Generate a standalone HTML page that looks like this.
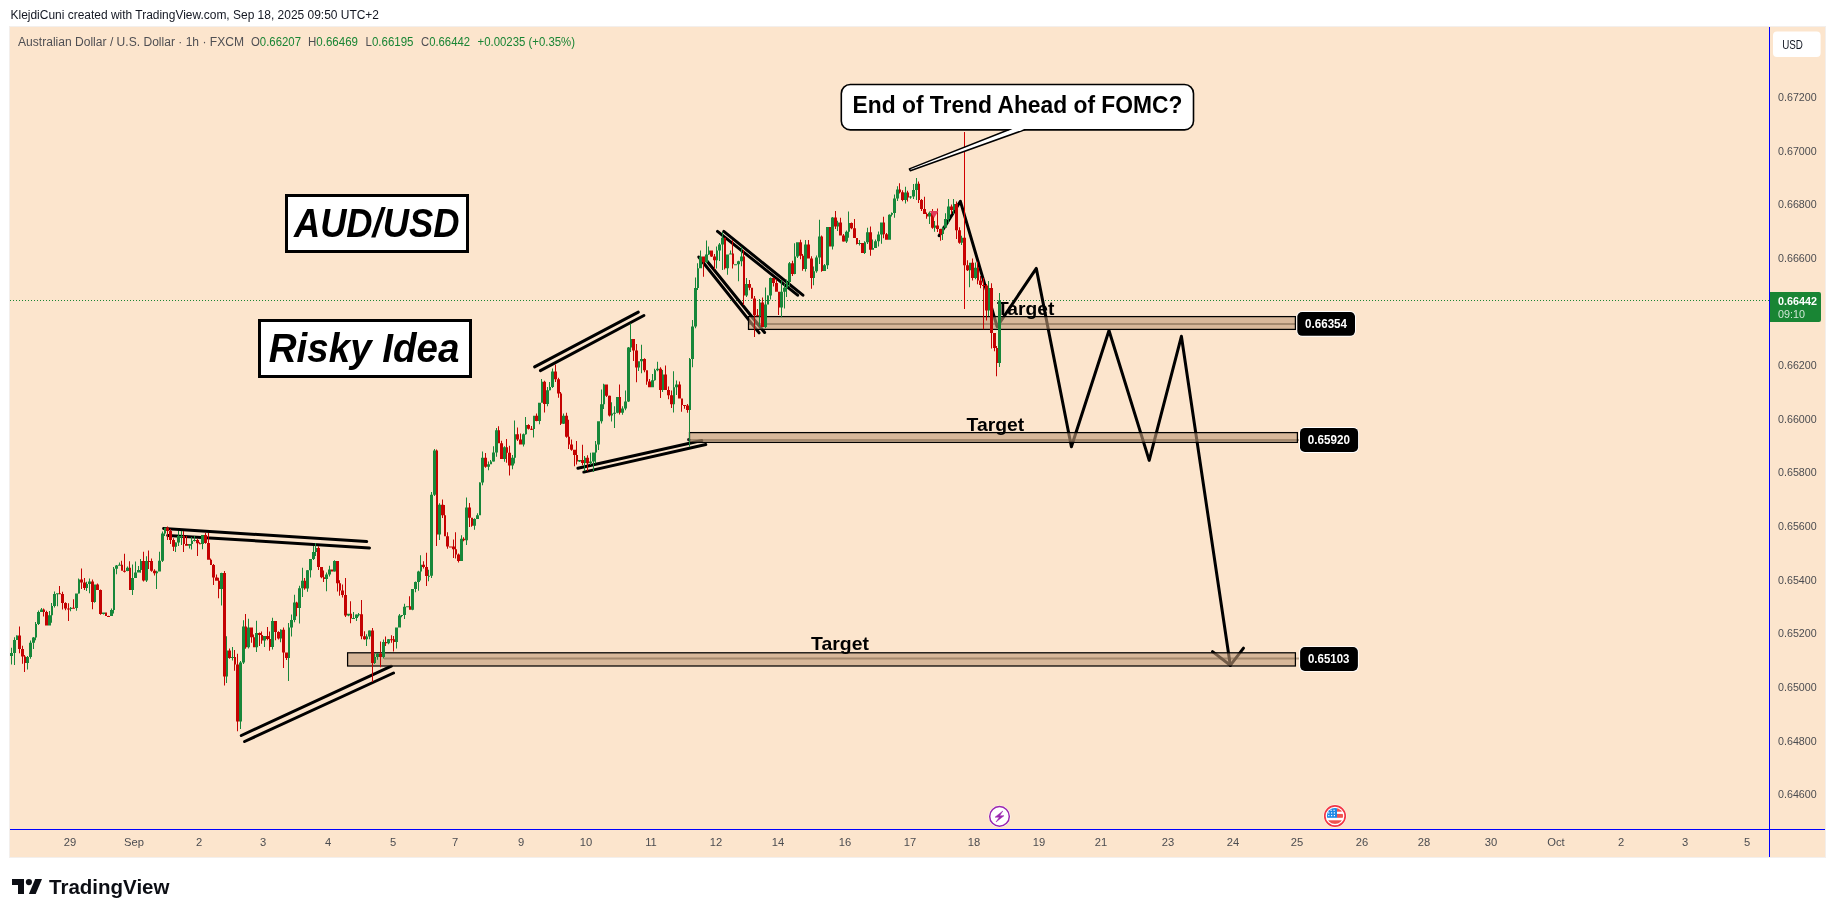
<!DOCTYPE html>
<html><head><meta charset="utf-8"><title>AUDUSD chart</title>
<style>html,body{margin:0;padding:0;background:#fff}body{width:1835px;height:917px}svg{display:block;will-change:transform}text{font-family:"Liberation Sans", sans-serif;white-space:pre}</style>
</head><body>
<svg width="1835" height="917" viewBox="0 0 1835 917">
<rect width="1835" height="917" fill="#fff"/>
<rect x="9.5" y="26.5" width="1816" height="831" fill="#fce5cd" stroke="#f3efec" stroke-width="1"/>
<rect x="10" y="27" width="1815" height="830" fill="#fce5cd"/>
<line x1="10" y1="300.5" x2="1769" y2="300.5" stroke="#198534" stroke-width="1" stroke-dasharray="1 2"/>
<line x1="163.6" y1="528.5" x2="366.7" y2="541.6" stroke="#000" stroke-width="3" stroke-linecap="round"/>
<line x1="167.7" y1="535.4" x2="369.5" y2="547.9" stroke="#000" stroke-width="3" stroke-linecap="round"/>
<line x1="241.3" y1="735.5" x2="391.3" y2="666.2" stroke="#000" stroke-width="3" stroke-linecap="round"/>
<line x1="244.6" y1="741.5" x2="393.5" y2="673" stroke="#000" stroke-width="3" stroke-linecap="round"/>
<line x1="534.6" y1="366.9" x2="638.3" y2="312.1" stroke="#000" stroke-width="3" stroke-linecap="round"/>
<line x1="540.4" y1="370.6" x2="643.9" y2="315.5" stroke="#000" stroke-width="3" stroke-linecap="round"/>
<line x1="577.9" y1="468.2" x2="701.8" y2="440.5" stroke="#000" stroke-width="3" stroke-linecap="round"/>
<line x1="583.8" y1="472.1" x2="705.8" y2="444.5" stroke="#000" stroke-width="3" stroke-linecap="round"/>
<line x1="717.5" y1="231.4" x2="797.6" y2="295.2" stroke="#000" stroke-width="3" stroke-linecap="round"/>
<line x1="723.8" y1="231.4" x2="802.9" y2="295.2" stroke="#000" stroke-width="3" stroke-linecap="round"/>
<line x1="698.8" y1="257" x2="759.1" y2="332.9" stroke="#000" stroke-width="3" stroke-linecap="round"/>
<line x1="704.7" y1="258.3" x2="764.6" y2="332.5" stroke="#000" stroke-width="3" stroke-linecap="round"/>
<polyline points="939.2,235.6 960.4,201.3 997.1,326.6 1036.3,268.4 1071.4,446.7 1109,330.5 1149.2,460.4 1181.4,336.3 1230.3,665.3" fill="none" stroke="#000" stroke-width="3" stroke-linejoin="round" stroke-linecap="round"/>
<polyline points="1212.5,651.6 1230.3,665.3 1243.5,648.2" fill="none" stroke="#000" stroke-width="3" stroke-linejoin="round" stroke-linecap="round"/>
<rect x="748.5" y="316.6" width="546.9" height="12.8" fill="rgba(192,153,120,0.6)"/>
<line x1="748.5" y1="324.0" x2="1296" y2="324.0" stroke="rgba(112,90,65,0.5)" stroke-width="2"/>
<rect x="748.5" y="316.6" width="546.9" height="12.8" fill="none" stroke="#000" stroke-width="1.25"/>
<rect x="689.5" y="432.6" width="607.9" height="9.8" fill="rgba(192,153,120,0.6)"/>
<line x1="689.5" y1="439.9" x2="1299" y2="439.9" stroke="rgba(112,90,65,0.5)" stroke-width="2"/>
<rect x="689.5" y="432.6" width="607.9" height="9.8" fill="none" stroke="#000" stroke-width="1.25"/>
<rect x="347.6" y="652.8" width="947.8" height="13.2" fill="rgba(192,153,120,0.6)"/>
<line x1="384" y1="658.6" x2="1299" y2="658.6" stroke="rgba(112,90,65,0.5)" stroke-width="2"/>
<rect x="347.6" y="652.8" width="947.8" height="13.2" fill="none" stroke="#000" stroke-width="1.25"/>
<circle cx="688.6" cy="439.6" r="1.6" fill="#222"/>
<text x="997.0" y="314.8" font-size="19" fill="#000" font-weight="bold" font-style="normal" text-anchor="start" textLength="57.3" lengthAdjust="spacingAndGlyphs">Target</text>
<text x="966.6" y="431.0" font-size="19" fill="#000" font-weight="bold" font-style="normal" text-anchor="start" textLength="57.6" lengthAdjust="spacingAndGlyphs">Target</text>
<text x="811.1" y="649.8" font-size="19" fill="#000" font-weight="bold" font-style="normal" text-anchor="start" textLength="57.9" lengthAdjust="spacingAndGlyphs">Target</text>
<path d="M11 647.8h1V664.5h-1ZM10 653.0h3V656.0h-3ZM14 637.3h1V664.9h-1ZM13 640.1h3V653.0h-3ZM16 635.2h1V640.1h-1ZM16 635.5h2V640.1h-2ZM27 655.9h1V669.4h-1ZM26 657.0h3V663.0h-3ZM30 640.4h1V658.8h-1ZM29 642.8h3V657.0h-3ZM33 637.0h1V649.0h-1ZM32 637.4h3V642.8h-3ZM35 622.0h1V640.3h-1ZM35 624.1h2V637.4h-2ZM38 610.5h1V625.1h-1ZM37 612.0h3V624.1h-3ZM41 608.1h1V612.0h-1ZM40 609.4h3V612.0h-3ZM49 611.0h1V625.6h-1ZM48 615.2h3V625.6h-3ZM51 603.1h1V622.7h-1ZM51 606.0h2V615.2h-2ZM54 591.5h1V607.5h-1ZM53 594.0h3V606.0h-3ZM57 593.3h1V606.2h-1ZM56 593.3h3V594.3h-3ZM70 607.1h1V611.2h-1ZM70 607.7h2V609.0h-2ZM76 593.6h1V610.7h-1ZM75 593.6h3V608.0h-3ZM78 578.4h1V593.8h-1ZM78 579.5h2V593.6h-2ZM86 581.7h1V591.0h-1ZM86 584.0h2V588.0h-2ZM89 578.5h1V593.3h-1ZM88 581.5h3V584.0h-3ZM94 584.4h1V602.8h-1ZM94 584.4h2V602.0h-2ZM103 612.6h1V614.6h-1ZM102 612.6h3V614.0h-3ZM111 608.5h1V616.1h-1ZM110 610.0h3V616.1h-3ZM113 567.0h1V613.5h-1ZM113 568.7h2V610.0h-2ZM116 565.1h1V574.3h-1ZM115 565.5h3V568.7h-3ZM119 562.4h1V565.5h-1ZM118 564.8h3V565.8h-3ZM127 566.4h1V571.3h-1ZM126 567.7h3V571.0h-3ZM132 564.5h1V595.0h-1ZM131 578.0h3V590.0h-3ZM135 561.4h1V578.0h-1ZM134 572.6h3V578.0h-3ZM138 566.1h1V572.6h-1ZM137 570.0h3V572.6h-3ZM140 559.0h1V572.7h-1ZM140 560.9h2V570.0h-2ZM146 556.3h1V582.1h-1ZM145 560.9h3V580.5h-3ZM156 570.8h1V588.9h-1ZM156 571.6h2V573.2h-2ZM159 551.8h1V571.6h-1ZM158 560.8h3V571.6h-3ZM162 531.5h1V562.0h-1ZM161 533.4h3V560.8h-3ZM164 527.7h1V536.1h-1ZM164 527.7h2V533.4h-2ZM175 542.2h1V551.9h-1ZM175 542.4h2V546.7h-2ZM178 531.0h1V546.0h-1ZM177 536.0h3V542.4h-3ZM181 531.1h1V545.1h-1ZM180 536.0h3V537.0h-3ZM189 544.0h1V548.6h-1ZM188 544.0h3V545.7h-3ZM191 537.1h1V549.6h-1ZM191 540.7h2V544.0h-2ZM194 536.0h1V541.4h-1ZM193 540.0h3V541.0h-3ZM202 534.9h1V549.3h-1ZM201 535.0h3V544.0h-3ZM221 572.7h1V605.4h-1ZM220 573.0h3V589.0h-3ZM226 636.2h1V683.0h-1ZM226 650.4h2V676.6h-2ZM232 646.9h1V660.6h-1ZM231 657.0h3V658.0h-3ZM240 661.0h1V729.0h-1ZM239 662.4h3V721.4h-3ZM243 620.3h1V664.0h-1ZM242 626.4h3V662.4h-3ZM248 618.8h1V648.6h-1ZM247 627.5h3V647.2h-3ZM256 620.8h1V651.9h-1ZM255 633.0h3V647.2h-3ZM264 636.0h1V646.9h-1ZM263 636.0h3V640.6h-3ZM272 617.8h1V649.6h-1ZM271 621.0h3V647.0h-3ZM280 629.2h1V642.2h-1ZM280 629.7h2V638.4h-2ZM288 623.0h1V681.0h-1ZM288 627.5h2V658.0h-2ZM291 614.4h1V636.6h-1ZM290 620.0h3V627.5h-3ZM294 594.8h1V622.3h-1ZM293 602.4h3V620.0h-3ZM299 585.8h1V623.5h-1ZM298 588.2h3V607.9h-3ZM302 567.7h1V597.1h-1ZM301 580.7h3V588.2h-3ZM307 569.9h1V591.7h-1ZM306 570.2h3V588.6h-3ZM310 558.9h1V577.6h-1ZM309 558.9h3V570.2h-3ZM313 546.0h1V560.0h-1ZM312 551.9h3V558.9h-3ZM315 543.0h1V556.0h-1ZM315 547.9h2V551.9h-2ZM326 572.5h1V591.3h-1ZM325 574.4h3V579.0h-3ZM329 565.7h1V576.4h-1ZM328 569.5h3V574.4h-3ZM334 560.2h1V571.7h-1ZM333 561.1h3V571.4h-3ZM348 613.8h1V616.3h-1ZM347 613.8h3V615.6h-3ZM353 612.0h1V618.6h-1ZM352 618.0h3V619.0h-3ZM356 614.2h1V621.1h-1ZM355 614.5h3V618.0h-3ZM358 612.9h1V616.4h-1ZM358 614.2h2V615.2h-2ZM366 634.2h1V646.0h-1ZM366 636.4h2V639.2h-2ZM369 630.2h1V639.2h-1ZM368 630.4h3V636.4h-3ZM374 653.6h1V663.9h-1ZM374 656.9h2V663.0h-2ZM377 652.9h1V659.7h-1ZM376 653.7h3V656.9h-3ZM383 639.6h1V658.5h-1ZM382 642.1h3V656.9h-3ZM388 639.0h1V644.2h-1ZM387 639.2h3V643.2h-3ZM396 627.4h1V648.4h-1ZM395 627.4h3V642.1h-3ZM399 613.9h1V627.4h-1ZM398 615.6h3V627.4h-3ZM401 615.1h1V617.2h-1ZM401 615.1h2V616.1h-2ZM404 603.8h1V618.9h-1ZM403 606.8h3V615.1h-3ZM407 606.2h1V606.8h-1ZM406 606.2h3V607.2h-3ZM412 589.1h1V610.3h-1ZM411 589.1h3V609.7h-3ZM415 581.6h1V592.2h-1ZM414 582.0h3V589.1h-3ZM418 570.7h1V590.8h-1ZM417 571.4h3V582.0h-3ZM420 555.3h1V580.6h-1ZM420 564.7h2V571.4h-2ZM428 569.8h1V581.3h-1ZM428 575.8h2V576.8h-2ZM431 492.0h1V578.0h-1ZM430 494.8h3V575.8h-3ZM434 449.0h1V496.0h-1ZM433 450.6h3V494.8h-3ZM439 503.2h1V540.0h-1ZM438 504.8h3V534.6h-3ZM461 535.3h1V561.0h-1ZM460 538.8h3V561.0h-3ZM466 497.4h1V545.1h-1ZM465 507.4h3V540.2h-3ZM474 518.2h1V529.7h-1ZM473 518.9h3V525.7h-3ZM477 513.2h1V518.9h-1ZM476 515.2h3V518.9h-3ZM479 482.2h1V515.2h-1ZM479 482.5h2V515.2h-2ZM482 451.6h1V485.2h-1ZM481 457.7h3V482.5h-3ZM488 461.4h1V470.3h-1ZM487 464.2h3V466.8h-3ZM490 459.9h1V464.2h-1ZM490 461.6h2V464.2h-2ZM493 446.3h1V461.7h-1ZM492 452.5h3V461.6h-3ZM496 427.9h1V456.7h-1ZM495 430.2h3V452.5h-3ZM504 446.2h1V461.8h-1ZM503 447.2h3V459.0h-3ZM512 455.1h1V469.3h-1ZM511 457.7h3V465.5h-3ZM514 420.4h1V463.5h-1ZM514 434.2h2V457.7h-2ZM523 433.6h1V446.5h-1ZM522 434.2h3V444.6h-3ZM525 416.9h1V434.7h-1ZM525 425.0h2V434.2h-2ZM533 415.8h1V437.6h-1ZM533 415.8h2V428.9h-2ZM539 402.8h1V424.2h-1ZM538 402.8h3V421.1h-3ZM541 379.0h1V402.8h-1ZM541 381.8h2V402.8h-2ZM547 387.0h1V406.2h-1ZM546 390.3h3V404.1h-3ZM549 381.9h1V390.4h-1ZM549 387.1h2V390.3h-2ZM552 368.5h1V388.0h-1ZM551 371.4h3V387.1h-3ZM563 413.4h1V424.0h-1ZM562 415.8h3V423.7h-3ZM579 460.0h1V462.0h-1ZM578 460.0h3V461.6h-3ZM584 456.1h1V471.0h-1ZM584 457.7h2V462.9h-2ZM590 452.7h1V464.9h-1ZM589 461.6h3V463.3h-3ZM593 452.5h1V472.0h-1ZM592 452.5h3V461.6h-3ZM595 441.1h1V463.6h-1ZM595 444.6h2V452.5h-2ZM598 421.2h1V450.1h-1ZM597 421.2h3V444.6h-3ZM601 389.5h1V423.6h-1ZM600 404.2h3V421.2h-3ZM603 383.8h1V408.9h-1ZM603 384.4h2V404.2h-2ZM611 402.2h1V421.5h-1ZM611 413.5h2V415.5h-2ZM614 406.3h1V427.9h-1ZM613 412.7h3V413.7h-3ZM617 397.1h1V413.3h-1ZM616 397.1h3V412.7h-3ZM622 406.2h1V414.7h-1ZM621 408.4h3V412.7h-3ZM625 390.6h1V410.2h-1ZM624 401.4h3V408.4h-3ZM628 347.1h1V401.9h-1ZM627 347.5h3V401.4h-3ZM630 323.4h1V352.0h-1ZM630 339.0h2V347.5h-2ZM638 361.3h1V370.9h-1ZM638 361.3h2V367.4h-2ZM641 344.7h1V373.3h-1ZM640 358.9h3V361.3h-3ZM652 374.0h1V387.3h-1ZM651 380.2h3V387.2h-3ZM654 368.8h1V380.7h-1ZM654 370.2h2V380.2h-2ZM657 361.8h1V371.3h-1ZM656 368.8h3V370.2h-3ZM662 370.1h1V392.0h-1ZM662 374.4h2V390.0h-2ZM673 371.3h1V412.4h-1ZM673 387.2h2V404.2h-2ZM676 380.4h1V395.1h-1ZM675 384.4h3V387.2h-3ZM689 358.0h1V446.7h-1ZM689 358.9h2V409.9h-2ZM692 320.1h1V367.3h-1ZM691 326.5h3V358.9h-3ZM695 277.5h1V328.2h-1ZM694 288.0h3V326.5h-3ZM697 263.2h1V289.9h-1ZM697 268.2h2V288.0h-2ZM700 250.5h1V268.2h-1ZM699 256.4h3V268.2h-3ZM706 240.6h1V262.9h-1ZM705 254.4h3V262.3h-3ZM708 246.5h1V255.1h-1ZM708 250.5h2V254.4h-2ZM716 246.6h1V268.5h-1ZM716 250.5h2V260.3h-2ZM719 243.1h1V261.0h-1ZM718 244.6h3V250.5h-3ZM722 232.0h1V270.0h-1ZM721 237.7h3V244.6h-3ZM727 254.4h1V274.8h-1ZM726 254.4h3V268.2h-3ZM730 250.5h1V254.4h-1ZM729 253.4h3V254.4h-3ZM735 264.2h1V264.2h-1ZM734 264.2h3V265.2h-3ZM738 260.7h1V281.2h-1ZM737 261.3h3V264.2h-3ZM741 246.7h1V266.2h-1ZM740 256.4h3V261.3h-3ZM746 278.1h1V297.1h-1ZM745 283.9h3V295.6h-3ZM759 299.1h1V326.1h-1ZM759 302.5h2V316.3h-2ZM765 287.5h1V328.2h-1ZM764 304.5h3V327.0h-3ZM767 295.2h1V304.5h-1ZM767 295.6h2V304.5h-2ZM770 277.4h1V299.4h-1ZM769 278.0h3V295.6h-3ZM781 279.9h1V317.2h-1ZM780 291.7h3V307.4h-3ZM784 283.6h1V308.6h-1ZM783 287.8h3V291.7h-3ZM786 279.4h1V297.1h-1ZM786 281.9h2V287.8h-2ZM789 261.9h1V286.9h-1ZM788 263.2h3V281.9h-3ZM794 243.3h1V274.2h-1ZM794 256.4h2V274.0h-2ZM797 242.2h1V257.9h-1ZM796 242.3h3V256.4h-3ZM805 240.0h1V271.6h-1ZM804 244.6h3V269.0h-3ZM813 266.5h1V285.2h-1ZM813 271.3h2V277.9h-2ZM816 255.6h1V272.8h-1ZM815 257.4h3V271.3h-3ZM819 219.8h1V263.9h-1ZM818 236.4h3V257.4h-3ZM824 263.9h1V270.9h-1ZM823 265.2h3V270.9h-3ZM827 227.0h1V269.1h-1ZM826 227.0h3V265.2h-3ZM832 217.1h1V249.5h-1ZM831 217.5h3V246.4h-3ZM837 220.8h1V231.0h-1ZM837 222.6h2V226.5h-2ZM846 230.4h1V242.9h-1ZM845 231.8h3V241.6h-3ZM848 211.6h1V237.7h-1ZM848 222.9h2V231.8h-2ZM859 240.0h1V245.6h-1ZM858 242.9h3V244.1h-3ZM864 241.2h1V254.1h-1ZM864 242.3h2V253.0h-2ZM867 227.8h1V243.9h-1ZM866 232.3h3V242.3h-3ZM872 239.5h1V249.7h-1ZM872 248.1h2V249.7h-2ZM875 239.4h1V248.1h-1ZM874 241.2h3V248.1h-3ZM878 231.6h1V246.6h-1ZM877 234.4h3V241.2h-3ZM881 222.4h1V243.8h-1ZM880 222.6h3V234.4h-3ZM889 214.2h1V239.7h-1ZM888 214.8h3V239.7h-3ZM891 212.6h1V216.6h-1ZM891 213.0h2V214.8h-2ZM894 194.5h1V217.8h-1ZM893 198.6h3V213.0h-3ZM897 186.2h1V200.9h-1ZM896 189.6h3V198.6h-3ZM905 186.8h1V203.4h-1ZM904 192.6h3V200.1h-3ZM910 196.1h1V198.7h-1ZM909 196.5h3V197.6h-3ZM913 184.0h1V199.0h-1ZM912 190.1h3V196.5h-3ZM916 178.0h1V200.0h-1ZM915 183.8h3V190.1h-3ZM929 211.6h1V223.9h-1ZM928 212.7h3V216.4h-3ZM934 220.9h1V231.7h-1ZM934 225.5h2V227.7h-2ZM942 226.7h1V239.9h-1ZM942 227.7h2V234.0h-2ZM945 213.2h1V227.7h-1ZM944 218.9h3V227.7h-3ZM948 199.0h1V223.2h-1ZM947 206.4h3V218.9h-3ZM953 198.9h1V213.9h-1ZM953 203.9h2V210.1h-2ZM961 235.8h1V245.1h-1ZM961 237.7h2V242.7h-2ZM969 262.7h1V287.3h-1ZM969 262.8h2V270.3h-2ZM975 262.4h1V279.3h-1ZM974 267.8h3V277.9h-3ZM988 281.0h1V316.3h-1ZM988 287.9h2V310.5h-2ZM999 292.9h1V367.0h-1ZM998 300.4h3V363.1h-3Z" fill="#17873a"/>
<path d="M19 626.6h1V653.3h-1ZM18 635.5h3V649.0h-3ZM22 645.8h1V663.8h-1ZM21 649.0h3V656.5h-3ZM24 655.0h1V672.0h-1ZM24 656.5h2V663.0h-2ZM43 608.4h1V616.6h-1ZM43 609.4h2V612.0h-2ZM46 610.8h1V625.6h-1ZM45 612.0h3V625.6h-3ZM59 585.9h1V594.0h-1ZM59 593.3h2V594.3h-2ZM62 591.7h1V609.5h-1ZM61 594.0h3V603.0h-3ZM65 602.2h1V610.3h-1ZM64 603.0h3V608.5h-3ZM68 603.3h1V620.9h-1ZM67 608.5h3V609.5h-3ZM73 599.3h1V608.7h-1ZM72 607.7h3V608.7h-3ZM81 568.5h1V589.1h-1ZM80 579.5h3V582.4h-3ZM84 578.1h1V589.9h-1ZM83 582.4h3V588.0h-3ZM92 579.6h1V609.3h-1ZM91 581.5h3V602.0h-3ZM97 583.6h1V589.9h-1ZM96 584.4h3V589.9h-3ZM100 589.5h1V614.7h-1ZM99 589.9h3V614.0h-3ZM105 612.4h1V616.1h-1ZM105 612.6h2V616.0h-2ZM108 615.8h1V616.2h-1ZM107 616.0h3V617.0h-3ZM121 560.7h1V570.7h-1ZM121 564.8h2V570.7h-2ZM124 553.7h1V572.4h-1ZM123 570.7h3V571.7h-3ZM129 561.2h1V590.0h-1ZM129 567.7h2V590.0h-2ZM143 551.8h1V581.5h-1ZM142 560.9h3V580.5h-3ZM148 550.5h1V569.0h-1ZM148 560.9h2V561.9h-2ZM151 558.6h1V571.7h-1ZM150 561.1h3V570.7h-3ZM154 569.2h1V575.6h-1ZM153 570.7h3V573.2h-3ZM167 526.5h1V540.0h-1ZM166 527.7h3V531.0h-3ZM170 529.0h1V544.0h-1ZM169 531.0h3V540.0h-3ZM173 538.2h1V551.1h-1ZM172 540.0h3V546.7h-3ZM183 531.0h1V552.0h-1ZM183 536.0h2V544.0h-2ZM186 536.1h1V545.7h-1ZM185 544.0h3V545.7h-3ZM197 538.7h1V556.0h-1ZM196 540.0h3V543.3h-3ZM199 542.3h1V544.3h-1ZM199 543.3h2V544.3h-2ZM205 532.7h1V543.8h-1ZM204 535.0h3V543.1h-3ZM208 532.9h1V559.7h-1ZM207 543.1h3V559.7h-3ZM210 558.6h1V565.0h-1ZM210 559.7h2V565.0h-2ZM213 564.1h1V585.0h-1ZM212 565.0h3V577.4h-3ZM216 574.6h1V580.7h-1ZM215 577.4h3V580.7h-3ZM218 577.8h1V598.3h-1ZM218 580.7h2V589.0h-2ZM224 571.0h1V685.4h-1ZM223 573.0h3V676.6h-3ZM229 648.4h1V658.7h-1ZM228 650.4h3V658.0h-3ZM234 650.1h1V670.8h-1ZM234 657.0h2V664.6h-2ZM237 653.7h1V731.2h-1ZM236 664.6h3V721.4h-3ZM245 613.9h1V648.8h-1ZM245 626.4h2V647.2h-2ZM251 627.5h1V642.7h-1ZM250 627.5h3V637.3h-3ZM253 634.4h1V647.2h-1ZM253 637.3h2V647.2h-2ZM259 632.6h1V646.0h-1ZM258 633.0h3V635.0h-3ZM261 631.6h1V643.8h-1ZM261 635.0h2V640.6h-2ZM267 627.0h1V640.2h-1ZM266 636.0h3V639.0h-3ZM269 631.6h1V650.7h-1ZM269 639.0h2V647.0h-2ZM275 621.0h1V640.2h-1ZM274 621.0h3V632.0h-3ZM278 631.3h1V639.6h-1ZM277 632.0h3V638.4h-3ZM283 627.5h1V668.0h-1ZM282 629.7h3V652.6h-3ZM286 652.6h1V659.9h-1ZM285 652.6h3V658.0h-3ZM296 601.8h1V616.3h-1ZM296 602.4h2V607.9h-2ZM304 578.1h1V589.8h-1ZM304 580.7h2V588.6h-2ZM318 546.2h1V570.1h-1ZM317 547.9h3V567.0h-3ZM321 566.9h1V578.3h-1ZM320 567.0h3V577.3h-3ZM323 570.4h1V582.1h-1ZM323 577.3h2V579.0h-2ZM331 569.5h1V571.6h-1ZM331 569.5h2V571.4h-2ZM337 561.1h1V591.6h-1ZM336 561.1h3V583.2h-3ZM339 580.2h1V595.7h-1ZM339 583.2h2V590.5h-2ZM342 584.5h1V597.4h-1ZM341 590.5h3V595.0h-3ZM345 578.0h1V617.1h-1ZM344 595.0h3V615.6h-3ZM350 601.2h1V623.2h-1ZM350 613.8h2V618.6h-2ZM361 599.9h1V639.2h-1ZM360 614.2h3V636.2h-3ZM364 631.2h1V639.7h-1ZM363 636.2h3V639.2h-3ZM372 628.0h1V682.0h-1ZM371 630.4h3V663.0h-3ZM380 641.4h1V667.3h-1ZM379 653.7h3V656.9h-3ZM385 636.5h1V645.9h-1ZM385 642.1h2V643.2h-2ZM391 635.3h1V642.8h-1ZM390 639.2h3V640.2h-3ZM393 636.0h1V651.4h-1ZM393 639.2h2V642.1h-2ZM409 596.3h1V609.8h-1ZM409 606.2h2V609.7h-2ZM423 561.3h1V568.4h-1ZM422 564.7h3V567.0h-3ZM426 552.7h1V586.0h-1ZM425 567.0h3V576.0h-3ZM436 449.5h1V546.0h-1ZM436 450.6h2V534.6h-2ZM442 499.5h1V517.9h-1ZM441 504.8h3V515.2h-3ZM444 504.9h1V536.2h-1ZM444 515.2h2V536.2h-2ZM447 532.3h1V548.8h-1ZM446 536.2h3V546.6h-3ZM450 546.6h1V546.6h-1ZM449 546.6h3V547.6h-3ZM453 539.4h1V557.9h-1ZM452 546.6h3V549.2h-3ZM455 532.2h1V558.4h-1ZM455 549.2h2V554.5h-2ZM458 553.6h1V562.5h-1ZM457 554.5h3V561.0h-3ZM463 537.2h1V541.2h-1ZM463 538.8h2V540.2h-2ZM469 502.9h1V527.0h-1ZM468 507.4h3V517.8h-3ZM471 517.8h1V526.7h-1ZM471 517.8h2V525.7h-2ZM485 453.1h1V467.8h-1ZM484 457.7h3V466.8h-3ZM498 426.3h1V443.3h-1ZM498 430.2h2V443.3h-2ZM501 440.8h1V459.0h-1ZM500 443.3h3V459.0h-3ZM506 439.1h1V462.8h-1ZM506 447.2h2V452.7h-2ZM509 445.7h1V475.4h-1ZM508 452.7h3V465.5h-3ZM517 427.4h1V440.9h-1ZM516 434.2h3V439.4h-3ZM520 433.5h1V444.6h-1ZM519 439.4h3V444.6h-3ZM528 424.3h1V429.4h-1ZM527 425.0h3V428.7h-3ZM531 425.9h1V430.1h-1ZM530 428.7h3V429.7h-3ZM536 413.6h1V421.2h-1ZM535 415.8h3V421.1h-3ZM544 380.8h1V412.5h-1ZM543 381.8h3V404.1h-3ZM555 364.4h1V381.9h-1ZM554 371.4h3V379.2h-3ZM558 377.7h1V397.7h-1ZM557 379.2h3V393.6h-3ZM560 392.1h1V424.9h-1ZM560 393.6h2V423.7h-2ZM566 412.8h1V437.8h-1ZM565 415.8h3V436.8h-3ZM568 419.8h1V449.1h-1ZM568 436.8h2V444.6h-2ZM571 439.4h1V450.7h-1ZM570 444.6h3V449.8h-3ZM574 449.7h1V466.2h-1ZM573 449.8h3V455.1h-3ZM576 441.0h1V464.5h-1ZM576 455.1h2V461.6h-2ZM582 444.7h1V465.2h-1ZM581 460.0h3V462.9h-3ZM587 455.3h1V470.9h-1ZM586 457.7h3V463.3h-3ZM606 384.4h1V396.9h-1ZM605 384.4h3V395.7h-3ZM609 395.6h1V416.5h-1ZM608 395.7h3V415.5h-3ZM619 384.6h1V414.6h-1ZM619 397.1h2V412.7h-2ZM633 339.0h1V361.0h-1ZM632 339.0h3V350.4h-3ZM636 344.0h1V382.2h-1ZM635 350.4h3V367.4h-3ZM644 358.2h1V372.2h-1ZM643 358.9h3V370.2h-3ZM646 370.2h1V384.7h-1ZM646 370.2h2V381.5h-2ZM649 379.1h1V387.2h-1ZM648 381.5h3V387.2h-3ZM660 367.2h1V398.1h-1ZM659 368.8h3V390.0h-3ZM665 365.4h1V390.0h-1ZM664 374.4h3V390.0h-3ZM668 386.5h1V399.3h-1ZM667 390.0h3V395.2h-3ZM671 390.5h1V407.9h-1ZM670 395.2h3V404.2h-3ZM679 381.4h1V398.5h-1ZM678 384.4h3V398.5h-3ZM681 398.5h1V411.8h-1ZM681 398.5h2V405.0h-2ZM684 405.0h1V408.8h-1ZM683 405.0h3V406.0h-3ZM687 403.9h1V412.7h-1ZM686 405.6h3V409.9h-3ZM703 256.4h1V276.8h-1ZM702 256.4h3V262.3h-3ZM711 250.5h1V257.1h-1ZM710 250.5h3V256.4h-3ZM714 254.1h1V269.2h-1ZM713 256.4h3V260.3h-3ZM724 237.7h1V269.4h-1ZM724 237.7h2V268.2h-2ZM732 240.2h1V268.6h-1ZM732 253.4h2V264.2h-2ZM743 250.0h1V305.1h-1ZM743 256.4h2V295.6h-2ZM749 280.0h1V290.2h-1ZM748 283.9h3V287.8h-3ZM751 287.8h1V298.7h-1ZM751 287.8h2V298.6h-2ZM754 296.0h1V336.9h-1ZM753 298.6h3V315.3h-3ZM757 309.1h1V316.3h-1ZM756 315.3h3V316.3h-3ZM762 297.4h1V327.0h-1ZM761 302.5h3V327.0h-3ZM773 277.9h1V286.4h-1ZM772 278.0h3V282.9h-3ZM776 279.4h1V291.7h-1ZM775 282.9h3V291.7h-3ZM778 291.7h1V315.1h-1ZM778 291.7h2V307.4h-2ZM792 260.7h1V275.9h-1ZM791 263.2h3V274.0h-3ZM800 239.8h1V259.2h-1ZM799 242.3h3V255.8h-3ZM802 254.0h1V270.7h-1ZM802 255.8h2V269.0h-2ZM808 239.9h1V258.6h-1ZM807 244.6h3V258.6h-3ZM811 256.2h1V288.8h-1ZM810 258.6h3V277.9h-3ZM821 235.6h1V271.7h-1ZM821 236.4h2V270.9h-2ZM829 227.0h1V246.4h-1ZM829 227.0h2V246.4h-2ZM835 210.9h1V229.1h-1ZM834 217.5h3V226.5h-3ZM840 217.7h1V235.4h-1ZM839 222.6h3V235.4h-3ZM843 234.0h1V241.8h-1ZM842 235.4h3V241.6h-3ZM851 222.4h1V229.3h-1ZM850 222.9h3V228.3h-3ZM854 219.0h1V237.9h-1ZM853 228.3h3V237.9h-3ZM856 237.9h1V244.4h-1ZM856 237.9h2V244.1h-2ZM862 242.9h1V253.0h-1ZM861 242.9h3V253.0h-3ZM870 226.4h1V255.8h-1ZM869 232.3h3V249.7h-3ZM883 216.7h1V238.3h-1ZM883 222.6h2V234.3h-2ZM886 233.0h1V239.7h-1ZM885 234.3h3V239.7h-3ZM899 183.2h1V193.5h-1ZM899 189.6h2V192.2h-2ZM902 190.2h1V201.2h-1ZM901 192.2h3V200.1h-3ZM907 190.8h1V201.4h-1ZM907 192.6h2V197.6h-2ZM918 181.5h1V203.0h-1ZM918 183.8h2V200.1h-2ZM921 199.0h1V211.1h-1ZM920 200.1h3V208.9h-3ZM924 196.7h1V213.9h-1ZM923 208.9h3V213.9h-3ZM926 212.6h1V218.7h-1ZM926 213.9h2V216.4h-2ZM932 209.1h1V228.8h-1ZM931 212.7h3V227.7h-3ZM937 208.5h1V232.0h-1ZM936 225.5h3V229.0h-3ZM940 228.8h1V240.8h-1ZM939 229.0h3V234.0h-3ZM951 204.6h1V213.7h-1ZM950 206.4h3V210.1h-3ZM956 201.4h1V239.0h-1ZM955 203.9h3V230.2h-3ZM959 227.2h1V243.7h-1ZM958 230.2h3V242.7h-3ZM964 231.3h1V266.2h-1ZM963 237.7h3V265.3h-3ZM967 260.3h1V271.0h-1ZM966 265.3h3V270.3h-3ZM972 258.5h1V280.6h-1ZM971 262.8h3V277.9h-3ZM977 261.8h1V284.3h-1ZM977 267.8h2V280.4h-2ZM980 276.1h1V288.3h-1ZM979 280.4h3V285.1h-3ZM983 278.0h1V329.3h-1ZM982 285.1h3V286.1h-3ZM986 283.9h1V320.5h-1ZM985 285.4h3V310.5h-3ZM991 283.2h1V348.5h-1ZM990 287.9h3V333.0h-3ZM994 333.0h1V351.3h-1ZM993 333.0h3V348.1h-3ZM996 346.0h1V376.2h-1ZM996 348.1h2V363.1h-2Z" fill="#c40202"/>
<rect x="964" y="132" width="1" height="177" fill="#d00000"/>
<path d="M929.8 210.9h8.6l-4.3 7.2z" fill="#e23a5a"/>
<path d="M1009.3 129.5L909.4 168.9L910.3 170.8L1025.3 129.5" fill="#fff" stroke="#000" stroke-width="1.5" stroke-linejoin="round"/>
<rect x="841.3" y="84.5" width="352.2" height="45.4" rx="9" fill="#fff" stroke="#000" stroke-width="1.6"/>
<path d="M1008.3 130.9L1013.4 128.4L1025.2 128.4L1020 130.9z" fill="#fff"/>
<text x="852.6" y="113.4" font-size="23.2" fill="#000" font-weight="bold" font-style="normal" text-anchor="start" textLength="329.8" lengthAdjust="spacingAndGlyphs">End of Trend Ahead of FOMC?</text>
<rect x="286.5" y="195.5" width="181" height="56" fill="#fff" stroke="#000" stroke-width="3"/>
<text x="293.9" y="237.0" font-size="40.8" fill="#000" font-weight="bold" font-style="italic" text-anchor="start" textLength="165.5" lengthAdjust="spacingAndGlyphs">AUD/USD</text>
<rect x="259.5" y="320.5" width="211" height="56" fill="#fff" stroke="#000" stroke-width="3"/>
<text x="268.8" y="361.9" font-size="40.8" fill="#000" font-weight="bold" font-style="italic" text-anchor="start" textLength="190.6" lengthAdjust="spacingAndGlyphs">Risky Idea</text>
<rect x="1296.3999999999999" y="311.1" width="59.5" height="25.6" rx="5.6" fill="#fff"/>
<rect x="1297.3" y="312.0" width="57.7" height="23.8" rx="4.8" fill="#000"/>
<text x="1305.1" y="328.1" font-size="12.3" fill="#fff" font-weight="bold" font-style="normal" text-anchor="start" textLength="41.9" lengthAdjust="spacingAndGlyphs">0.66354</text>
<rect x="1299.1" y="427.0" width="59.9" height="25.900000000000002" rx="5.6" fill="#fff"/>
<rect x="1300.0" y="427.9" width="58.1" height="24.1" rx="4.8" fill="#000"/>
<text x="1307.8" y="444.1" font-size="12.3" fill="#fff" font-weight="bold" font-style="normal" text-anchor="start" textLength="42.2" lengthAdjust="spacingAndGlyphs">0.65920</text>
<rect x="1299.1999999999998" y="646.2" width="59.599999999999994" height="25.6" rx="5.6" fill="#fff"/>
<rect x="1300.1" y="647.1" width="57.8" height="23.8" rx="4.8" fill="#000"/>
<text x="1308.0" y="663.1" font-size="12.3" fill="#fff" font-weight="bold" font-style="normal" text-anchor="start" textLength="41.4" lengthAdjust="spacingAndGlyphs">0.65103</text>
<rect x="1769" y="27" width="1" height="830" fill="#0000ff"/>
<rect x="10" y="829" width="1815" height="1" fill="#0000ff"/>
<rect x="1773" y="31.4" width="47.6" height="25.6" rx="4" fill="#fff"/>
<text x="1782.2" y="49.0" font-size="12.4" fill="#131722" font-weight="normal" font-style="normal" text-anchor="start" textLength="20.7" lengthAdjust="spacingAndGlyphs">USD</text>
<text x="1778.0" y="100.9" font-size="10.8" fill="#4b4c50" font-weight="normal" font-style="normal" text-anchor="start" textLength="38.7" lengthAdjust="spacingAndGlyphs">0.67200</text>
<text x="1778.0" y="154.5" font-size="10.8" fill="#4b4c50" font-weight="normal" font-style="normal" text-anchor="start" textLength="38.7" lengthAdjust="spacingAndGlyphs">0.67000</text>
<text x="1778.0" y="208.2" font-size="10.8" fill="#4b4c50" font-weight="normal" font-style="normal" text-anchor="start" textLength="38.7" lengthAdjust="spacingAndGlyphs">0.66800</text>
<text x="1778.0" y="261.8" font-size="10.8" fill="#4b4c50" font-weight="normal" font-style="normal" text-anchor="start" textLength="38.7" lengthAdjust="spacingAndGlyphs">0.66600</text>
<text x="1778.0" y="369.1" font-size="10.8" fill="#4b4c50" font-weight="normal" font-style="normal" text-anchor="start" textLength="38.7" lengthAdjust="spacingAndGlyphs">0.66200</text>
<text x="1778.0" y="422.7" font-size="10.8" fill="#4b4c50" font-weight="normal" font-style="normal" text-anchor="start" textLength="38.7" lengthAdjust="spacingAndGlyphs">0.66000</text>
<text x="1778.0" y="476.4" font-size="10.8" fill="#4b4c50" font-weight="normal" font-style="normal" text-anchor="start" textLength="38.7" lengthAdjust="spacingAndGlyphs">0.65800</text>
<text x="1778.0" y="530.0" font-size="10.8" fill="#4b4c50" font-weight="normal" font-style="normal" text-anchor="start" textLength="38.7" lengthAdjust="spacingAndGlyphs">0.65600</text>
<text x="1778.0" y="583.6" font-size="10.8" fill="#4b4c50" font-weight="normal" font-style="normal" text-anchor="start" textLength="38.7" lengthAdjust="spacingAndGlyphs">0.65400</text>
<text x="1778.0" y="637.3" font-size="10.8" fill="#4b4c50" font-weight="normal" font-style="normal" text-anchor="start" textLength="38.7" lengthAdjust="spacingAndGlyphs">0.65200</text>
<text x="1778.0" y="690.9" font-size="10.8" fill="#4b4c50" font-weight="normal" font-style="normal" text-anchor="start" textLength="38.7" lengthAdjust="spacingAndGlyphs">0.65000</text>
<text x="1778.0" y="744.5" font-size="10.8" fill="#4b4c50" font-weight="normal" font-style="normal" text-anchor="start" textLength="38.7" lengthAdjust="spacingAndGlyphs">0.64800</text>
<text x="1778.0" y="798.2" font-size="10.8" fill="#4b4c50" font-weight="normal" font-style="normal" text-anchor="start" textLength="38.7" lengthAdjust="spacingAndGlyphs">0.64600</text>
<path d="M1770 292h49a2 2 0 0 1 2 2v26a2 2 0 0 1 -2 2h-49z" fill="#198534"/>
<text x="1778.0" y="305.2" font-size="11" fill="#fff" font-weight="bold" font-style="normal" text-anchor="start" textLength="39.0" lengthAdjust="spacingAndGlyphs">0.66442</text>
<text x="1778.0" y="318.2" font-size="11" fill="#cfe6d5" font-weight="normal" font-style="normal" text-anchor="start" textLength="27.0" lengthAdjust="spacingAndGlyphs">09:10</text>
<text x="70.0" y="846.1" font-size="11.2" fill="#4b4c50" font-weight="normal" font-style="normal" text-anchor="middle">29</text>
<text x="134.0" y="846.1" font-size="11.2" fill="#4b4c50" font-weight="normal" font-style="normal" text-anchor="middle">Sep</text>
<text x="199.0" y="846.1" font-size="11.2" fill="#4b4c50" font-weight="normal" font-style="normal" text-anchor="middle">2</text>
<text x="263.0" y="846.1" font-size="11.2" fill="#4b4c50" font-weight="normal" font-style="normal" text-anchor="middle">3</text>
<text x="328.0" y="846.1" font-size="11.2" fill="#4b4c50" font-weight="normal" font-style="normal" text-anchor="middle">4</text>
<text x="393.0" y="846.1" font-size="11.2" fill="#4b4c50" font-weight="normal" font-style="normal" text-anchor="middle">5</text>
<text x="455.0" y="846.1" font-size="11.2" fill="#4b4c50" font-weight="normal" font-style="normal" text-anchor="middle">7</text>
<text x="521.0" y="846.1" font-size="11.2" fill="#4b4c50" font-weight="normal" font-style="normal" text-anchor="middle">9</text>
<text x="586.0" y="846.1" font-size="11.2" fill="#4b4c50" font-weight="normal" font-style="normal" text-anchor="middle">10</text>
<text x="651.0" y="846.1" font-size="11.2" fill="#4b4c50" font-weight="normal" font-style="normal" text-anchor="middle">11</text>
<text x="716.0" y="846.1" font-size="11.2" fill="#4b4c50" font-weight="normal" font-style="normal" text-anchor="middle">12</text>
<text x="778.0" y="846.1" font-size="11.2" fill="#4b4c50" font-weight="normal" font-style="normal" text-anchor="middle">14</text>
<text x="845.0" y="846.1" font-size="11.2" fill="#4b4c50" font-weight="normal" font-style="normal" text-anchor="middle">16</text>
<text x="910.0" y="846.1" font-size="11.2" fill="#4b4c50" font-weight="normal" font-style="normal" text-anchor="middle">17</text>
<text x="974.0" y="846.1" font-size="11.2" fill="#4b4c50" font-weight="normal" font-style="normal" text-anchor="middle">18</text>
<text x="1039.0" y="846.1" font-size="11.2" fill="#4b4c50" font-weight="normal" font-style="normal" text-anchor="middle">19</text>
<text x="1101.0" y="846.1" font-size="11.2" fill="#4b4c50" font-weight="normal" font-style="normal" text-anchor="middle">21</text>
<text x="1168.0" y="846.1" font-size="11.2" fill="#4b4c50" font-weight="normal" font-style="normal" text-anchor="middle">23</text>
<text x="1233.0" y="846.1" font-size="11.2" fill="#4b4c50" font-weight="normal" font-style="normal" text-anchor="middle">24</text>
<text x="1297.0" y="846.1" font-size="11.2" fill="#4b4c50" font-weight="normal" font-style="normal" text-anchor="middle">25</text>
<text x="1362.0" y="846.1" font-size="11.2" fill="#4b4c50" font-weight="normal" font-style="normal" text-anchor="middle">26</text>
<text x="1424.0" y="846.1" font-size="11.2" fill="#4b4c50" font-weight="normal" font-style="normal" text-anchor="middle">28</text>
<text x="1491.0" y="846.1" font-size="11.2" fill="#4b4c50" font-weight="normal" font-style="normal" text-anchor="middle">30</text>
<text x="1556.0" y="846.1" font-size="11.2" fill="#4b4c50" font-weight="normal" font-style="normal" text-anchor="middle">Oct</text>
<text x="1621.0" y="846.1" font-size="11.2" fill="#4b4c50" font-weight="normal" font-style="normal" text-anchor="middle">2</text>
<text x="1685.0" y="846.1" font-size="11.2" fill="#4b4c50" font-weight="normal" font-style="normal" text-anchor="middle">3</text>
<text x="1747.0" y="846.1" font-size="11.2" fill="#4b4c50" font-weight="normal" font-style="normal" text-anchor="middle">5</text>
<circle cx="999.5" cy="816.4" r="10.9" fill="#fff"/>
<circle cx="999.5" cy="816.4" r="9.8" fill="#fff" stroke="#9c27b0" stroke-width="1.5"/>
<path d="M1002.8 811.0L995.0 817.2L999.3 817.2L996.0 822.0L1004.0 815.7L999.7 815.7Z" fill="#9c27b0" stroke="#9c27b0" stroke-width="0.5" stroke-linejoin="round"/>
<circle cx="1335" cy="816" r="11.4" fill="#fff"/>
<clipPath id="fl"><circle cx="1335" cy="816" r="8.1"/></clipPath>
<g clip-path="url(#fl)"><rect x="1326" y="807" width="18" height="18" fill="#fff"/><rect x="1337" y="807.9" width="9" height="3.8" fill="#ef5350"/><rect x="1337" y="813.9" width="9" height="3.9" fill="#ef5350"/><rect x="1326" y="820.3" width="18" height="3.6" fill="#ef5350"/><rect x="1326" y="807" width="11" height="10.8" fill="#1e88e5"/><g fill="#fff"><rect x="1330.5" y="809.7" width="1.2" height="1.2"/><rect x="1333.5" y="809.7" width="1.2" height="1.2"/><rect x="1328.2" y="812.3" width="1.2" height="1.2"/><rect x="1331" y="812.3" width="1.2" height="1.2"/><rect x="1333.8" y="812.3" width="1.2" height="1.2"/><rect x="1328.2" y="815" width="1.2" height="1.2"/><rect x="1331" y="815" width="1.2" height="1.2"/><rect x="1333.8" y="815" width="1.2" height="1.2"/></g></g>
<circle cx="1335" cy="816" r="10.2" fill="none" stroke="#f23645" stroke-width="1.7"/>
<text x="10.5" y="18.7" font-size="12" fill="#131722" font-weight="normal" font-style="normal" text-anchor="start" textLength="368.5" lengthAdjust="spacingAndGlyphs">KlejdiCuni created with TradingView.com, Sep 18, 2025 09:50 UTC+2</text>
<text x="18.0" y="45.8" font-size="12" fill="#4f4f53" font-weight="normal" font-style="normal" text-anchor="start" textLength="226.0" lengthAdjust="spacingAndGlyphs">Australian Dollar / U.S. Dollar · 1h · FXCM</text>
<text x="251" y="45.8" font-size="12" textLength="50.0" lengthAdjust="spacingAndGlyphs"><tspan fill="#4f4f53">O</tspan><tspan fill="#198534">0.66207</tspan></text>
<text x="308" y="45.8" font-size="12" textLength="50.0" lengthAdjust="spacingAndGlyphs"><tspan fill="#4f4f53">H</tspan><tspan fill="#198534">0.66469</tspan></text>
<text x="365.5" y="45.8" font-size="12" textLength="48.0" lengthAdjust="spacingAndGlyphs"><tspan fill="#4f4f53">L</tspan><tspan fill="#198534">0.66195</tspan></text>
<text x="421" y="45.8" font-size="12" textLength="49.0" lengthAdjust="spacingAndGlyphs"><tspan fill="#4f4f53">C</tspan><tspan fill="#198534">0.66442</tspan></text>
<text x="477.5" y="45.8" font-size="12" fill="#198534" font-weight="normal" font-style="normal" text-anchor="start" textLength="97.5" lengthAdjust="spacingAndGlyphs">+0.00235 (+0.35%)</text>
<g fill="#0c0e14"><path d="M12 879h12v15h-6v-9h-6z"/><circle cx="28.9" cy="882.1" r="3.1"/><path d="M35.2 879h6.8l-6.3 15h-6.8z"/></g>
<text x="49.0" y="894.0" font-size="20.6" fill="#0c0e14" font-weight="bold" font-style="normal" text-anchor="start" textLength="120.5" lengthAdjust="spacingAndGlyphs">TradingView</text>
</svg></body></html>
